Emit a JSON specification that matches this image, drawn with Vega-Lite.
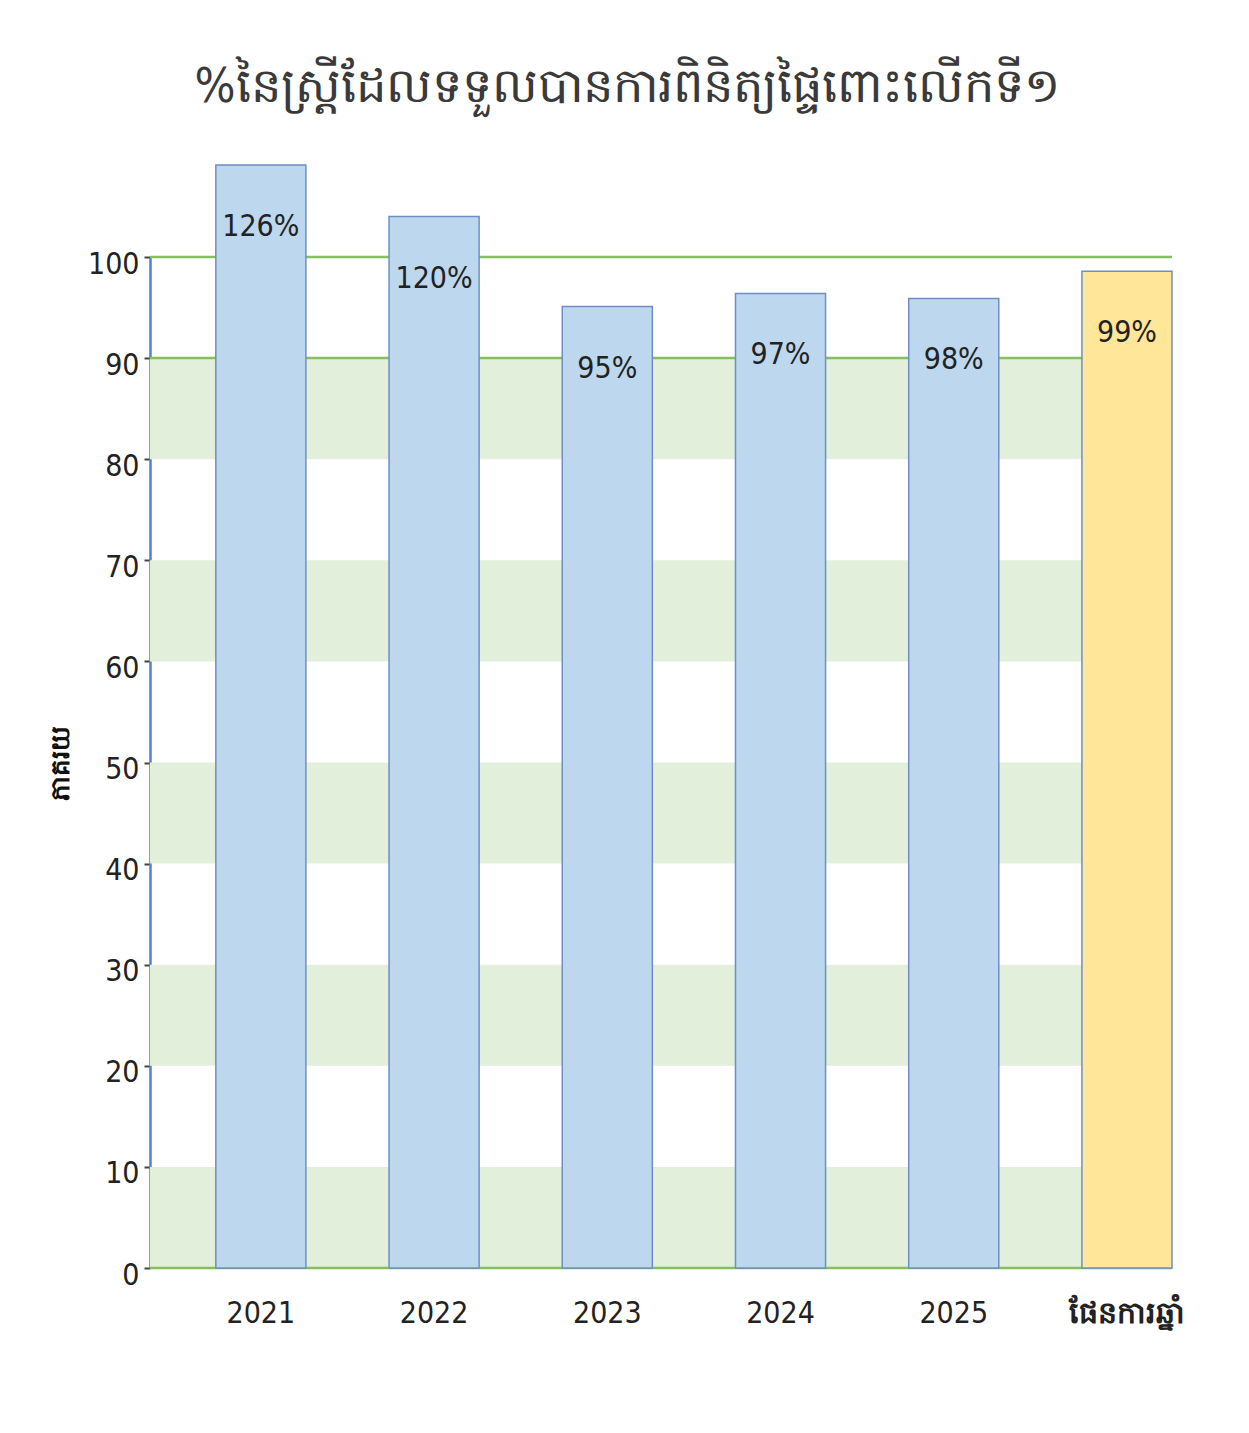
{
  "$schema": "https://vega.github.io/schema/vega-lite/v6.json",
  "width": 1022,
  "height": 1011,
  "autosize": {"type": "none"},
  "padding": {"left": 150, "top": 257, "right": 77, "bottom": 165},
  "background": "white",
  "config": {
    "view": {"stroke": null},
    "font": "DejaVu Sans Condensed, sans-serif"
  },
  "title": {
    "text": "%នៃស្ត្រីដែលទទួលបានការពិនិត្យផ្ទៃពោះលើកទី១",
    "fontSize": 48,
    "fontWeight": "normal",
    "color": "#3a3a3a",
    "anchor": "middle",
    "dx": -34,
    "offset": 52
  },
  "datasets": {
    "bars": [
      {"year": "2021", "value": 109.1, "label": "126%", "kind": "actual"},
      {"year": "2022", "value": 104.0, "label": "120%", "kind": "actual"},
      {"year": "2023", "value": 95.1, "label": "95%", "kind": "actual"},
      {"year": "2024", "value": 96.4, "label": "97%", "kind": "actual"},
      {"year": "2025", "value": 95.9, "label": "98%", "kind": "actual"},
      {"year": "ផែនការឆ្នាំ", "value": 98.6, "label": "99%", "kind": "plan"}
    ],
    "bands": [
      {"lo": 0, "hi": 10},
      {"lo": 20, "hi": 30},
      {"lo": 40, "hi": 50},
      {"lo": 60, "hi": 70},
      {"lo": 80, "hi": 90}
    ],
    "lines": [
      {"v": 0},
      {"v": 90},
      {"v": 100}
    ]
  },
  "layer": [
    {
      "data": {"name": "bands"},
      "mark": {"type": "rect", "color": "#e2efda"},
      "encoding": {
        "y": {
          "field": "lo",
          "type": "quantitative",
          "scale": {"domain": [0, 100], "nice": false},
          "axis": {
            "title": "ភាគរយ",
            "titleFontSize": 26,
            "titleFontWeight": "bold",
            "titleColor": "#111111",
            "titlePadding": 14,
            "values": [0, 10, 20, 30, 40, 50, 60, 70, 80, 90, 100],
            "grid": false,
            "domainColor": "#4f7fd6",
            "domainWidth": 2.5,
            "tickColor": "#444444",
            "tickSize": 6,
            "tickWidth": 2,
            "labelFontSize": 30,
            "labelColor": "#222222",
            "labelPadding": 5,
            "labelOffset": 7
          }
        },
        "y2": {"field": "hi"}
      }
    },
    {
      "data": {"name": "lines"},
      "mark": {"type": "rule", "color": "#86bf5e", "strokeWidth": 2.5},
      "encoding": {
        "y": {"field": "v", "type": "quantitative"}
      }
    },
    {
      "data": {"name": "bars"},
      "mark": {"type": "bar", "stroke": "#6f8fc4", "strokeWidth": 1.5, "clip": false},
      "encoding": {
        "x": {
          "field": "year",
          "type": "nominal",
          "sort": null,
          "scale": {"paddingInner": 0.48, "paddingOuter": 0.19, "align": 1},
          "axis": {
            "title": null,
            "domain": false,
            "ticks": false,
            "labelAngle": 0,
            "labelFontSize": 30,
            "labelFontWeight": {"condition": {"test": "datum.value == 'ផែនការឆ្នាំ'", "value": "bold"}, "value": "normal"},
            "labelColor": "#222222",
            "labelPadding": 30
          }
        },
        "y": {
          "field": "value",
          "type": "quantitative"
        },
        "color": {
          "field": "kind",
          "type": "nominal",
          "scale": {"domain": ["actual", "plan"], "range": ["#bdd7ee", "#ffe699"]},
          "legend": null
        }
      }
    },
    {
      "data": {"name": "bars"},
      "mark": {"type": "text", "fontSize": 30, "color": "#222222", "baseline": "middle", "dy": 62},
      "encoding": {
        "x": {"field": "year", "type": "nominal", "sort": null},
        "y": {"field": "value", "type": "quantitative"},
        "text": {"field": "label"}
      }
    }
  ]
}
